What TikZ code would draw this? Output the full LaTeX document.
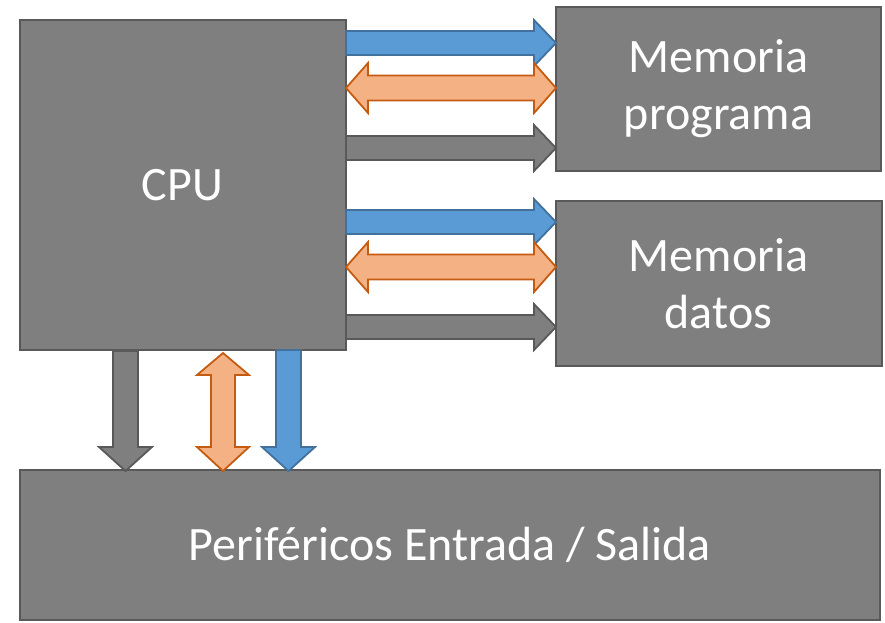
\documentclass[tikz,border=0pt]{standalone}
\usepackage{fontspec}
\setmainfont{Carlito}
\definecolor{boxfill}{HTML}{7F7F7F}
\definecolor{boxline}{HTML}{595959}
\definecolor{bluefill}{HTML}{5B9BD5}
\definecolor{blueline}{HTML}{41719C}
\definecolor{orfill}{HTML}{F4B183}
\definecolor{orline}{HTML}{C55A11}
\newcommand\harrow[4]{%
\draw[#1] (#2,#4-12) -- (#3-22,#4-12) -- (#3-22,#4-23) -- (#3,#4) -- (#3-22,#4+23) -- (#3-22,#4+12) -- (#2,#4+12) -- cycle;}
\newcommand\hdarrow[4]{%
\draw[#1] (#2,#4) -- (#2+22,#4-25) -- (#2+22,#4-12.5) -- (#3-22,#4-12.5) -- (#3-22,#4-25) -- (#3,#4) -- (#3-22,#4+25) -- (#3-22,#4+12.5) -- (#2+22,#4+12.5) -- (#2+22,#4+25) -- cycle;}
\newcommand\varrow[4]{%
\draw[#1] (#4-12.5,#2) -- (#4+12.5,#2) -- (#4+12.5,#3-24) -- (#4+26.5,#3-24) -- (#4,#3) -- (#4-26.5,#3-24) -- (#4-12.5,#3-24) -- (#4-12.5,#2) -- cycle;}
\newcommand\vdarrow[4]{%
\draw[#1] (#4,#2) -- (#4+26,#2+22) -- (#4+12,#2+22) -- (#4+12,#3-24) -- (#4+26,#3-24) -- (#4,#3) -- (#4-26,#3-24) -- (#4-12,#3-24) -- (#4-12,#2+22) -- (#4-26,#2+22) -- cycle;}
\tikzset{
  blockbox/.style={draw=boxline, fill=boxfill, line width=2pt, text=white, font=\fontsize{48}{57}\selectfont, align=center, inner sep=0pt},
  barrow/.style={draw=blueline, fill=bluefill, line width=1.8pt, line join=miter},
  oarrow/.style={draw=orline, fill=orfill, line width=1.8pt, line join=miter},
  garrow/.style={draw=boxline, fill=boxfill, line width=1.8pt, line join=miter},
}
\begin{document}
\begin{tikzpicture}[x=1pt,y=-1pt]
\useasboundingbox (0,0) rectangle (885,622);
\node[blockbox, minimum width=326pt, minimum height=330pt] (cpu) at (182.5,185) {CPU};
\node[blockbox, minimum width=325pt, minimum height=164pt] (mp) at (718.5,89) {Memoria\\programa};
\node[blockbox, minimum width=326pt, minimum height=165pt] (md) at (718.5,283.5) {Memoria\\datos};
\node[blockbox, minimum width=860pt, minimum height=150pt] (io) at (450,545) {Periféricos Entrada / Salida};
\harrow{barrow}{346}{556}{43}
\hdarrow{oarrow}{346}{556}{88}
\harrow{garrow}{346}{556}{148}
\harrow{barrow}{346}{556}{222}
\hdarrow{oarrow}{346}{556}{267}
\harrow{garrow}{346}{556}{327}
\varrow{garrow}{351}{471}{125.5}
\vdarrow{oarrow}{353}{471}{223}
\varrow{barrow}{350}{471}{288.5}
\end{tikzpicture}
\end{document}
